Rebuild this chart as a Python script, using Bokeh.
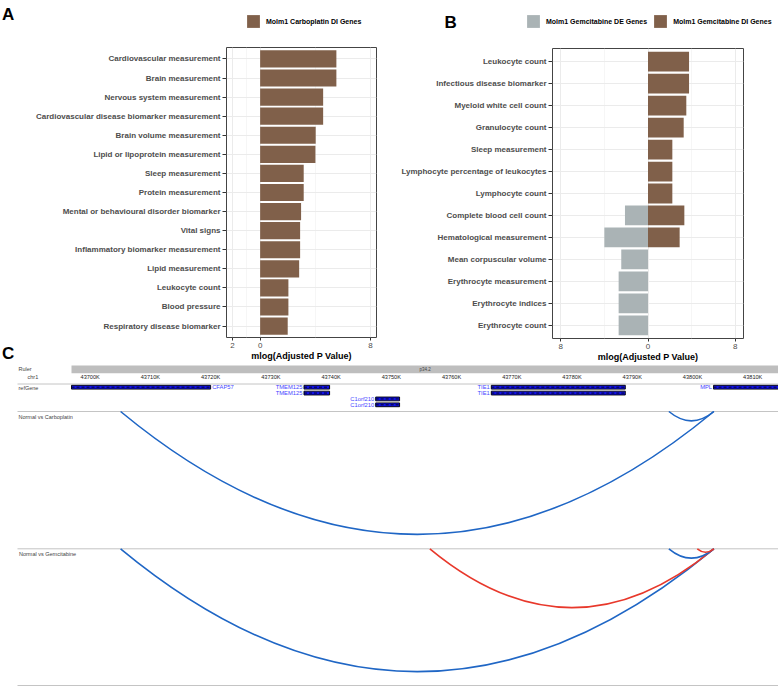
from bokeh.plotting import figure
from bokeh.models import Range1d, FixedTicker, Legend, LegendItem, Label
from bokeh.layouts import column, row
from bokeh.embed import file_html
from bokeh.resources import INLINE
from bokeh.core.properties import value

FONT = "Liberation Sans"
BROWN = "#80604A"
GREY = "#AAB3B5"
NAN = float("nan")

# ---------------- Panel A data ----------------
a_terms = ["Cardiovascular measurement", "Brain measurement", "Nervous system measurement",
           "Cardiovascular disease biomarker measurement", "Brain volume measurement",
           "Lipid or lipoprotein measurement", "Sleep measurement", "Protein measurement",
           "Mental or behavioural disorder biomarker", "Vital signs",
           "Inflammatory biomarker measurement", "Lipid measurement", "Leukocyte count",
           "Blood pressure", "Respiratory disease biomarker"]
a_carbo_di = [5.53, 5.53, 4.57, 4.57, 4.03, 4.01, 3.16, 3.16, 2.97, 2.90, 2.90, 2.83, 2.05, 2.05, 2.00]
a_ticks = [-2, 0, 8]
a_minor = [-1, 4]
a_tick_labels = {-2: "2", 0: "0", 8: "8"}
a_legend = ["Molm1 Carboplatin DI Genes"]

# ---------------- Panel B data ----------------
b_terms = ["Leukocyte count", "Infectious disease biomarker", "Myeloid white cell count",
           "Granulocyte count", "Sleep measurement", "Lymphocyte percentage of leukocytes",
           "Lymphocyte count", "Complete blood cell count", "Hematological measurement",
           "Mean corpuscular volume", "Erythrocyte measurement", "Erythrocyte indices",
           "Erythrocyte count"]
b_gem_de = [0, 0, 0, 0, 0, 0, 0, 2.11, 4.00, 2.45, 2.69, 2.69, 2.69]
b_gem_di = [3.76, 3.76, 3.51, 3.27, 2.23, 2.23, 2.23, 3.33, 2.90, 0, 0, 0, 0]
b_ticks = [-8, 0, 8]
b_minor = [-4, 4]
b_tick_labels = {-8: "8", 0: "0", 8: "8"}
b_legend = ["Molm1 Gemcitabine DE Genes", "Molm1 Gemcitabine DI Genes"]

# ---------------- Panel C data ----------------
region_start, region_end = 43696900, 43814300
ruler_ticks = [43700000, 43710000, 43720000, 43730000, 43740000, 43750000,
               43760000, 43770000, 43780000, 43790000, 43800000, 43810000]
ruler_labels = ["43700K", "43710K", "43720K", "43730K", "43740K", "43750K",
                "43760K", "43770K", "43780K", "43790K", "43800K", "43810K"]
band_name = "p34.2"
gene_names = ["CFAP57", "TMEM125", "TMEM125", "C1orf210", "C1orf210", "TIE1", "TIE1", "MPL"]
gene_starts = [43696900, 43735500, 43735500, 43747400, 43747400, 43766600, 43766600, 43803500]
gene_ends = [43720000, 43739750, 43739750, 43751370, 43751370, 43788850, 43788850, 43814300]
gene_rows = [0, 0, 1, 2, 3, 0, 1, 0]
gene_label_right = [True, False, False, False, False, False, False, False]

carbo_starts = [43705050, 43796080]
carbo_ends = [43803550, 43803550]
carbo_colors = ["#1F66C5", "#1F66C5"]
gem_starts = [43705050, 43756400, 43796080, 43800800]
gem_ends = [43803550, 43803550, 43803550, 43803550]
gem_colors = ["#1F66C5", "#E8382B", "#1F66C5", "#E8382B"]

TOP_H = 364
HDR_H = 40


def blank(width, height, left=0, top=0):
    p = figure(width=width, height=height, x_range=Range1d(0, width), y_range=Range1d(height, 0),
               output_backend="svg", toolbar_location=None, min_border=0,
               min_border_left=left, min_border_top=top,
               x_axis_type=None, y_axis_type=None, outline_line_color=None)
    p.xgrid.visible = False
    p.ygrid.visible = False
    return p


def panel_label(p, text, x, y):
    p.add_layout(Label(x=x, y=y, text=text, text_font=FONT, text_font_size="17px",
                       text_font_style="bold", text_baseline="alphabetic", text_color="black"))


def style_bar_panel(p, terms, ticks, minor, labels):
    n = len(terms)
    pos = [n - i for i in range(n)]
    p.xaxis.ticker = FixedTicker(ticks=ticks, minor_ticks=minor)
    p.xaxis.major_label_overrides = labels
    p.yaxis.ticker = FixedTicker(ticks=pos)
    p.yaxis.major_label_overrides = {k: t for k, t in zip(pos, terms)}
    for ax in (p.xaxis[0], p.yaxis[0]):
        ax.axis_line_color = None
        ax.major_tick_line_color = "#333333"
        ax.major_tick_in = 0
        ax.minor_tick_line_color = None
        ax.major_label_text_font = FONT
        ax.major_label_text_color = "#4D4D4D"
    p.yaxis.major_tick_out = 4
    p.yaxis.major_label_standoff = 2
    p.yaxis.major_label_text_font_size = "8px"
    p.yaxis.major_label_text_font_style = "bold"
    p.xaxis.major_tick_out = 3
    p.xaxis.major_label_standoff = 1
    p.xaxis.major_label_text_font_size = "8px"
    p.xaxis.axis_label = "mlog(Adjusted P Value)"
    p.xaxis.axis_label_text_font = FONT
    p.xaxis.axis_label_text_font_size = "9px"
    p.xaxis.axis_label_text_font_style = "bold"
    p.xaxis.axis_label_text_color = "black"
    p.xaxis.axis_label_standoff = 0
    p.xgrid.grid_line_color = "#EBEBEB"
    p.xgrid.minor_grid_line_color = "#F2F2F2"
    p.xgrid.minor_grid_line_width = 0.7
    p.ygrid.grid_line_color = "#EBEBEB"
    p.outline_line_color = "#444444"
    p.outline_line_width = 1
    return pos


def header_legend(hdr, labels, colors):
    items = []
    for lab, col in zip(labels, colors):
        # legend key only: a single undefined (NaN) box that never shows in the frame
        r = hdr.quad(left=[NAN], right=[NAN], top=[NAN], bottom=[NAN],
                     fill_color=col, line_color=None)
        items.append(LegendItem(label=lab, renderers=[r]))
    leg = Legend(items=items, location="top_left", orientation="horizontal",
                 glyph_width=16, glyph_height=16, label_height=16, label_width=10,
                 padding=0, spacing=5, margin=0, label_standoff=5,
                 border_line_color=None, background_fill_alpha=0,
                 label_text_font=FONT, label_text_font_size="7px",
                 label_text_font_style="bold", label_text_color="black")
    hdr.add_layout(leg, "center")


# ---------------- strip with panel letters A and C ----------------
STRIP_W = 22
strip = blank(STRIP_W, TOP_H)
panel_label(strip, "A", 1.5, 14)
panel_label(strip, "C", 1.5, 353)

# ---------------- Panel A ----------------
WA = 390 - STRIP_W
A_LEG_X = 245 - STRIP_W
spacerA = blank(A_LEG_X, HDR_H)
hdrA = blank(WA - A_LEG_X, HDR_H, top=13)
header_legend(hdrA, a_legend, [BROWN])

pA = figure(width=WA, height=TOP_H - HDR_H, x_range=Range1d(-2.44, 8.44),
            y_range=Range1d(0.4, len(a_terms) + 0.6),
            output_backend="svg", toolbar_location=None,
            min_border_left=226 - STRIP_W, min_border_right=14, min_border_top=7,
            min_border_bottom=TOP_H - HDR_H - 7 - 290)
posA = style_bar_panel(pA, a_terms, a_ticks, a_minor, a_tick_labels)
pA.hbar(y=posA, left=0, right=a_carbo_di, height=0.9, fill_color=BROWN, line_color=None)

# ---------------- Panel B ----------------
WB = 778 - 390
B_LEG_X = 525 - 390
stripB = blank(B_LEG_X, HDR_H)
panel_label(stripB, "B", 444 - 390, 14)
hdrB = blank(WB - B_LEG_X, HDR_H, top=13)
header_legend(hdrB, b_legend, [GREY, BROWN])

pB = figure(width=WB, height=TOP_H - HDR_H, x_range=Range1d(-8.75, 8.75),
            y_range=Range1d(0.4, len(b_terms) + 0.6),
            output_backend="svg", toolbar_location=None,
            min_border_left=162, min_border_right=WB - 162 - 191, min_border_top=8,
            min_border_bottom=TOP_H - HDR_H - 8 - 290)
posB = style_bar_panel(pB, b_terms, b_ticks, b_minor, b_tick_labels)
de_y = [y for y, v in zip(posB, b_gem_de) if v > 0]
de_v = [-v for v in b_gem_de if v > 0]
di_y = [y for y, v in zip(posB, b_gem_di) if v > 0]
di_v = [v for v in b_gem_di if v > 0]
pB.hbar(y=de_y, left=de_v, right=0, height=0.9, fill_color=GREY, line_color=None)
pB.hbar(y=di_y, left=0, right=di_v, height=0.9, fill_color=BROWN, line_color=None)

# ---------------- Panel C (genome browser) ----------------
W_C, H_C = 778, 686 - TOP_H
bp_per_px = 10000 / 60.23
x_start = region_start - 71 * bp_per_px
x_end = x_start + W_C * bp_per_px
pC = figure(width=W_C, height=H_C, x_range=Range1d(x_start, x_end), y_range=Range1d(H_C, 0),
            output_backend="svg", toolbar_location=None, min_border=0,
            x_axis_type=None, y_axis_type=None, outline_line_color=None)
pC.xgrid.visible = False
pC.ygrid.visible = False


def py(page_y):
    return page_y - TOP_H


TXT = "#444444"
pC.quad(left=[region_start], right=[region_end], top=[py(365)], bottom=[py(372.7)],
        fill_color="#BEBEBE", line_color=None)
pC.text(x=[(region_start + region_end) / 2], y=[py(368.9)], text=[band_name], text_align="center",
        text_baseline="middle", text_font=value(FONT), text_font_size="4.5px", text_color=TXT)
pC.text(x=ruler_ticks, y=[py(376.9)] * len(ruler_ticks), text=ruler_labels, text_align="center",
        text_baseline="middle", text_font=value(FONT), text_font_size="5.6px", text_color="#222222")

sep_y = [py(383.5), py(411), py(548.3), py(685)]
pC.segment(x0=[x_start + 17 * bp_per_px] * 4, x1=[x_end] * 4, y0=sep_y, y1=sep_y,
           line_color="#C4C4C4", line_width=1)

row_y = [py(386.7) + r * 5.87 for r in gene_rows]
pC.quad(left=gene_starts, right=gene_ends, top=[y - 1.9 for y in row_y],
        bottom=[y + 1.9 for y in row_y], fill_color="#1010E8", line_color="black", line_width=0.9)
pC.segment(x0=gene_starts, x1=gene_ends, y0=row_y, y1=row_y, line_color="black",
           line_width=0.8, line_dash="3 2")
lx_l = [s for s, r in zip(gene_starts, gene_label_right) if not r]
ly_l = [y for y, r in zip(row_y, gene_label_right) if not r]
lt_l = [n for n, r in zip(gene_names, gene_label_right) if not r]
pC.text(x=lx_l, y=ly_l, text=lt_l, text_align="right", text_baseline="middle", x_offset=-1.5,
        text_font=value(FONT), text_font_size="5.8px", text_color="#4646FF")
lx_r = [e for e, r in zip(gene_ends, gene_label_right) if r]
ly_r = [y for y, r in zip(row_y, gene_label_right) if r]
lt_r = [n for n, r in zip(gene_names, gene_label_right) if r]
pC.text(x=lx_r, y=ly_r, text=lt_r, text_align="left", text_baseline="middle", x_offset=1.5,
        text_font=value(FONT), text_font_size="5.8px", text_color="#4646FF")

ARC_K = 0.207


def draw_arcs(starts, ends, colors, top):
    depth = [(e - s) / bp_per_px * ARC_K for s, e in zip(starts, ends)]
    pC.quadratic(x0=starts, y0=[top] * len(starts), x1=ends, y1=[top] * len(starts),
                 cx=[(s + e) / 2 for s, e in zip(starts, ends)],
                 cy=[top + 2 * d for d in depth], line_color=colors, line_width=1.6)


draw_arcs(carbo_starts, carbo_ends, carbo_colors, py(411))
draw_arcs(gem_starts, gem_ends, gem_colors, py(548.3))

for txt, x, y in [("Ruler", 18, 368.2), ("chr1", 27, 376.9), ("refGene", 18, 387.7),
                  ("Normal vs Carboplatin", 18, 416), ("Normal vs Gemcitabine", 18.5, 553)]:
    pC.add_layout(Label(x=x, y=py(y), x_units="screen", y_units="data", text=txt,
                        text_font=FONT, text_font_size="5.5px", text_color=TXT,
                        text_baseline="middle"))

layout = column(row(row(strip, column(row(spacerA, hdrA), pA)),
                    column(row(stripB, hdrB), pB)), pC)
open("out.html", "w").write(file_html(layout, INLINE))
